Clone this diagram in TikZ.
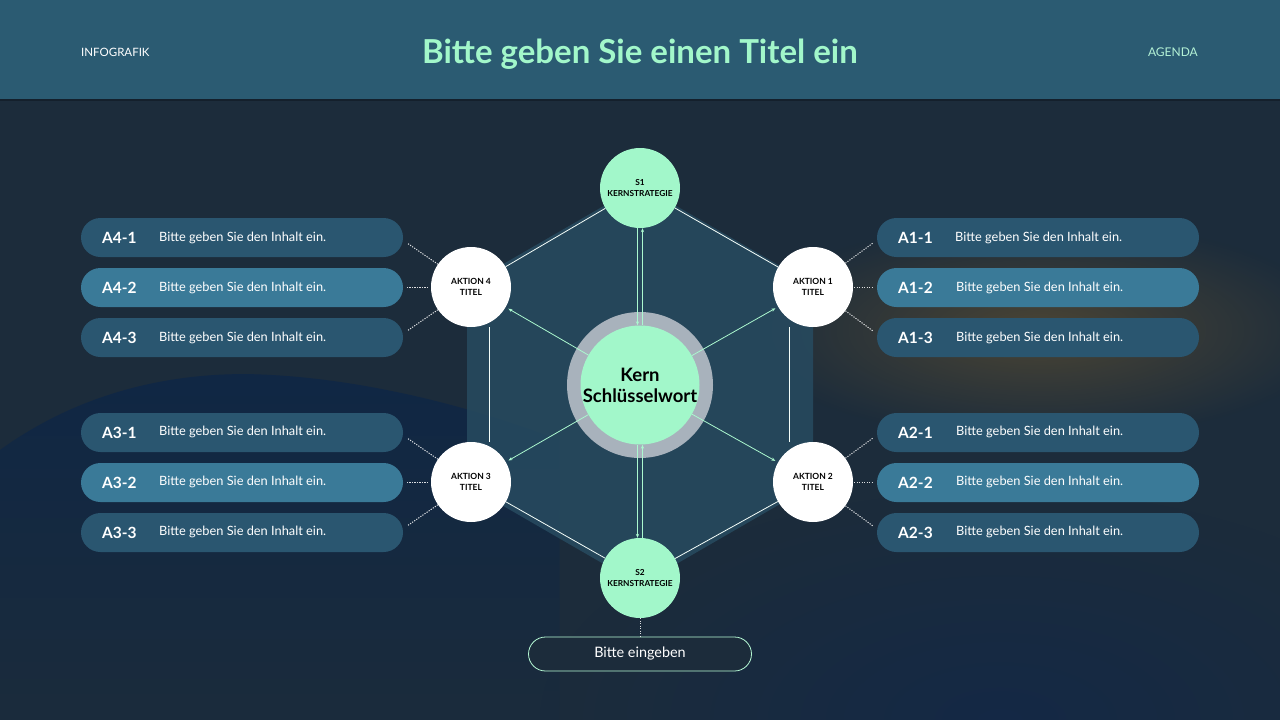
\documentclass[tikz,border=0pt]{standalone}
\usepackage{fontspec}
\setmainfont{Lato}
\usetikzlibrary{arrows.meta,fadings}
\definecolor{hdr}{HTML}{2B5B72}
\definecolor{bgc}{HTML}{1C2C3B}
\definecolor{navy}{HTML}{0C2550}
\definecolor{hill}{HTML}{0D2647}
\definecolor{glow}{HTML}{6A5530}
\definecolor{mint}{HTML}{A2F7CA}
\definecolor{pillA}{HTML}{2A5670}
\definecolor{pillB}{HTML}{3A7A98}
\definecolor{ringc}{HTML}{A8B2BC}
\definecolor{hexc}{HTML}{274B60}
\definecolor{agenda}{HTML}{B4F2D6}
\tikzfading[name=softfade, inner color=transparent!0, outer color=transparent!100]
\tikzfading[name=topsolid, top color=transparent!0, bottom color=transparent!90]
\tikzset{
  pillbox/.style={rectangle, rounded corners=19.5pt, minimum width=322pt, minimum height=39pt, inner sep=0pt, draw=none},
  pidlab/.style={anchor=west, text=white, font=\bfseries\fontsize{15.5}{17}\selectfont, inner sep=0pt},
  ptxtlab/.style={anchor=west, text=white, font=\fontsize{12.8}{14}\selectfont, inner sep=0pt},
  strat/.style={circle, fill=mint, minimum size=80pt, inner sep=0pt, align=center, font=\bfseries\fontsize{8.3}{11.5}\selectfont, text=black},
  aktion/.style={circle, fill=white, minimum size=80pt, inner sep=0pt, align=center, font=\bfseries\fontsize{8.5}{11.5}\selectfont, text=black},
  dotline/.style={white, opacity=0.85, line width=1pt, dash pattern=on 1.2pt off 1.3pt},
  wline/.style={white!88!mint, line width=0.8pt},
  marrow/.style={mint!90!white, line width=0.8pt, -{Stealth[length=4pt,width=3.2pt]}},
}
\begin{document}
\begin{tikzpicture}[x=1pt,y=-1pt]
\useasboundingbox (0,0) rectangle (1280,720);
% background
\fill[bgc] (0,0) rectangle (1280,720);
\fill[navy, opacity=0.5, path fading=softfade] (1000,720) ellipse (460 and 230);
\fill[hill, opacity=0.8, path fading=topsolid] (0,450) .. controls (80,392) and (170,373) .. (250,374) .. controls (340,376) and (450,398) .. (560,440) -- (560,720) -- (0,720) -- cycle;
\fill[glow, opacity=0.6, path fading=softfade] (1040,330) ellipse (300 and 110);
% header
\fill[hdr] (0,0) rectangle (1280,99);
\fill[black, opacity=0.25] (0,99) rectangle (1280,101);
\node[anchor=west, text=white, font=\fontsize{11.5}{13}\selectfont, inner sep=0pt] (infog) at (81,52) {INFOGRAFIK};
\node[text=mint, font=\bfseries\fontsize{33}{36}\selectfont, inner sep=0pt] (title) at (640,54) {Bitte geben Sie einen Titel ein};
\node[anchor=east, text=agenda, font=\fontsize{12}{13}\selectfont, inner sep=0pt] (agenda) at (1198,52) {AGENDA};
% hexagon
\fill[hexc, opacity=0.85] (640,185) -- (813,285) -- (813,485) -- (640,585) -- (467,485) -- (467,285) -- cycle;
% pills
\foreach \n/\y/\c in {41/237.5/pillA,42/287.5/pillB,43/337.5/pillA,31/432.5/pillA,32/482.5/pillB,33/532.5/pillA}{
  \node[pillbox, fill=\c] (p\n) at (242,\y) {};
}
\foreach \n/\y/\c in {11/237.5/pillA,12/287.5/pillB,13/337.5/pillA,21/432.5/pillA,22/482.5/pillB,23/532.5/pillA}{
  \node[pillbox, fill=\c] (p\n) at (1038,\y) {};
}
\node[pidlab] (l41) at (102,238) {A4-1};
\node[pidlab] (l42) at (102,288) {A4-2};
\node[pidlab] (l43) at (102,338) {A4-3};
\node[pidlab] (l31) at (102,433) {A3-1};
\node[pidlab] (l32) at (102,483) {A3-2};
\node[pidlab] (l33) at (102,533) {A3-3};
\node[pidlab] (l11) at (898,238) {A1-1};
\node[pidlab] (l12) at (898,288) {A1-2};
\node[pidlab] (l13) at (898,338) {A1-3};
\node[pidlab] (l21) at (898,433) {A2-1};
\node[pidlab] (l22) at (898,483) {A2-2};
\node[pidlab] (l23) at (898,533) {A2-3};
\foreach \n/\x/\y in {41/159/237.5,42/159/287.5,43/159/337.5,31/159/432,32/159/482,33/159/532,11/955/237.5,12/956/287.5,13/956/337.5,21/956/432,22/956/482,23/956/532}{
  \node[ptxtlab] (t\n) at (\x,\y) {Bitte geben Sie den Inhalt ein.};
}
% circles
\node[strat] (s1) at (640,188) {S1\\KERNSTRATEGIE};
\node[strat] (s2) at (640,578) {S2\\KERNSTRATEGIE};
\node[aktion] (a4) at (471,287) {AKTION 4\\TITEL};
\node[aktion] (a1) at (813,287) {AKTION 1\\TITEL};
\node[aktion] (a3) at (471,482) {AKTION 3\\TITEL};
\node[aktion] (a2) at (813,482) {AKTION 2\\TITEL};
\node[circle, fill=ringc, minimum size=146pt, inner sep=0pt] (ring) at (640,385) {};
% free ends
\coordinate (c41) at (407,243); \coordinate (c42) at (407,287); \coordinate (c43) at (407,331);
\coordinate (c31) at (407,438); \coordinate (c32) at (407,482); \coordinate (c33) at (407,526);
\coordinate (c11) at (873,243); \coordinate (c12) at (873,287); \coordinate (c13) at (873,331);
\coordinate (c21) at (873,438); \coordinate (c22) at (873,482); \coordinate (c23) at (873,526);
\coordinate (h4) at (428,287); \coordinate (h1) at (854,287);
\coordinate (h3) at (428,482); \coordinate (h2) at (854,482);
% white connectors
\draw[wline] (s1) -- (a4);
\draw[wline] (s1) -- (a1);
\draw[wline] (s2) -- (a3);
\draw[wline] (s2) -- (a2);
\draw[wline] ([xshift=18pt]a4.south) -- ([xshift=18pt]a3.north);
\draw[wline] ([xshift=-24pt]a1.south) -- ([xshift=-24pt]a2.north);
% inner core
\node[circle, fill=mint, minimum size=114pt, inner sep=0pt, align=center, font=\bfseries\fontsize{18.5}{21}\selectfont, text=black] (kern) at (640,385) {Kern\\Schlüsselwort};
% arrows from core
\draw[marrow, shorten >=3pt] (kern) -- (a4);
\draw[marrow, shorten >=3pt] (kern) -- (a1);
\draw[marrow, shorten >=3pt] (kern) -- (a3);
\draw[marrow, shorten >=3pt] (kern) -- (a2);
\draw[marrow] ([xshift=2.5pt]kern.north) -- ([xshift=2.5pt]s1.south);
\draw[marrow] ([xshift=-2.5pt]s1.south) -- ([xshift=-2.5pt]kern.north);
\draw[marrow] ([xshift=-2.5pt]kern.south) -- ([xshift=-2.5pt]s2.north);
\draw[marrow] ([xshift=2.5pt]s2.north) -- ([xshift=2.5pt]kern.south);
% dotted connectors
\draw[dotline] (a4) -- (c41); \draw[dotline] (h4) -- (c42); \draw[dotline] (a4) -- (c43);
\draw[dotline] (a3) -- (c31); \draw[dotline] (h3) -- (c32); \draw[dotline] (a3) -- (c33);
\draw[dotline] (a1) -- (c11); \draw[dotline] (h1) -- (c12); \draw[dotline] (a1) -- (c13);
\draw[dotline] (a2) -- (c21); \draw[dotline] (h2) -- (c22); \draw[dotline] (a2) -- (c23);
% bottom pill
\node[rectangle, rounded corners=17pt, draw=mint!80!white, line width=0.8pt, fill=bgc, minimum width=223pt, minimum height=34pt, text=white, font=\fontsize{14.4}{16}\selectfont] (bottom) at (640,654) {Bitte eingeben};
\draw[dotline] (s2) -- (bottom);
\end{tikzpicture}
\end{document}
